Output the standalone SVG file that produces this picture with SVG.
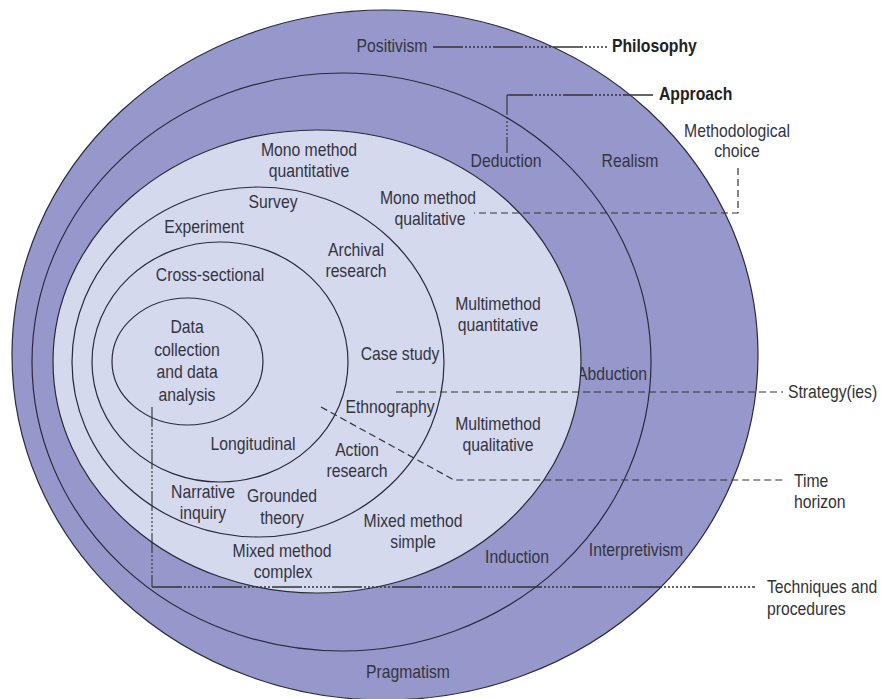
<svg xmlns="http://www.w3.org/2000/svg" width="881" height="699" viewBox="0 0 881 699">
<style>
.band{fill:#9698cb;stroke:#2a2a3a;stroke-width:1.2}
.light{fill:#d5d9ee;stroke:#2a2a3a;stroke-width:1.2}
.ring{fill:none;stroke:#2a2a3a;stroke-width:1.2}
text{font-family:"Liberation Sans",Arial,sans-serif;font-size:17.5px;fill:#34343f;text-anchor:middle;transform-box:fill-box;transform-origin:center;transform:scaleX(0.9)}
.lbl{text-anchor:start;fill:#333;transform-origin:left center}
.bold{font-weight:bold;fill:#222;text-anchor:start;transform-origin:left center}
.dash{fill:none;stroke:#333;stroke-width:1.2;stroke-dasharray:7 4}
.mix{fill:none;stroke:#333;stroke-width:1.3;stroke-dasharray:30 2 2 2 2 2 2 2 2 2 2 2 2 2 2 2}
.thin{fill:none;stroke:#333;stroke-width:1.1;stroke-dasharray:20 2 2 2 2 2 2 2 2 2 2 2}
</style>
<rect width="881" height="699" fill="#ffffff"/>
<g id="philosophy">
<ellipse class="band" cx="385" cy="355" rx="373" ry="345"/>
<text x="392" y="52">Positivism</text>
<text x="630" y="167">Realism</text>
<text x="636" y="556">Interpretivism</text>
<text x="408" y="678">Pragmatism</text>
</g>
<g id="approach">
<ellipse class="band" cx="341.5" cy="362" rx="309.5" ry="289"/>
<text x="506" y="167">Deduction</text>
<text x="612" y="380">Abduction</text>
<text x="517" y="563">Induction</text>
</g>
<g id="methodological-choice">
<ellipse class="light" cx="317" cy="361.5" rx="264" ry="231.5"/>
<text x="309" y="156">Mono method</text>
<text x="309" y="177">quantitative</text>
<text x="428" y="204">Mono method</text>
<text x="430" y="225">qualitative</text>
<text x="498" y="310">Multimethod</text>
<text x="498" y="331">quantitative</text>
<text x="498" y="430">Multimethod</text>
<text x="498" y="451">qualitative</text>
<text x="413" y="527">Mixed method</text>
<text x="413" y="548">simple</text>
<text x="282" y="557">Mixed method</text>
<text x="283" y="578">complex</text>
</g>
<g id="strategies">
<ellipse class="ring" cx="258" cy="362" rx="186" ry="175"/>
<text x="273" y="208">Survey</text>
<text x="204" y="233">Experiment</text>
<text x="356" y="256">Archival</text>
<text x="356" y="277">research</text>
<text x="400" y="360">Case study</text>
<text x="390" y="413">Ethnography</text>
<text x="357" y="456">Action</text>
<text x="357" y="477">research</text>
<text x="203" y="498">Narrative</text>
<text x="203" y="519">inquiry</text>
<text x="282" y="502">Grounded</text>
<text x="282" y="524">theory</text>
</g>
<g id="time-horizon">
<ellipse class="ring" cx="220" cy="362" rx="128" ry="120"/>
<text x="210" y="281">Cross-sectional</text>
<text x="253" y="450">Longitudinal</text>
</g>
<g id="core">
<ellipse class="ring" cx="187.5" cy="361.5" rx="75.5" ry="63.5"/>
<text x="187" y="333">Data</text>
<text x="187" y="356">collection</text>
<text x="187" y="378">and data</text>
<text x="187" y="401">analysis</text>
</g>
<g id="connectors">
<line class="mix" x1="433" y1="47" x2="608" y2="47"/>
<polyline class="mix" points="653,95 507,95"/>
<line class="thin" x1="507" y1="95" x2="507" y2="153"/>
<polyline class="dash" points="738,168 738,213 474,213"/>
<line class="dash" x1="396" y1="392" x2="783" y2="392"/>
<polyline class="dash" points="321,407 454,480 783,480"/>
<line class="thin" x1="152" y1="407" x2="152" y2="587"/>
<line class="mix" x1="152" y1="587" x2="755" y2="587"/>
</g>
<g id="labels">
<text class="bold" x="612" y="52">Philosophy</text>
<text class="bold" x="659" y="100">Approach</text>
<text x="737" y="137">Methodological</text>
<text x="737" y="157">choice</text>
<text class="lbl" x="788" y="398">Strategy(ies)</text>
<text class="lbl" x="794" y="487">Time</text>
<text class="lbl" x="794" y="508">horizon</text>
<text class="lbl" x="767" y="593">Techniques and</text>
<text class="lbl" x="767" y="615">procedures</text>
</g>
</svg>
